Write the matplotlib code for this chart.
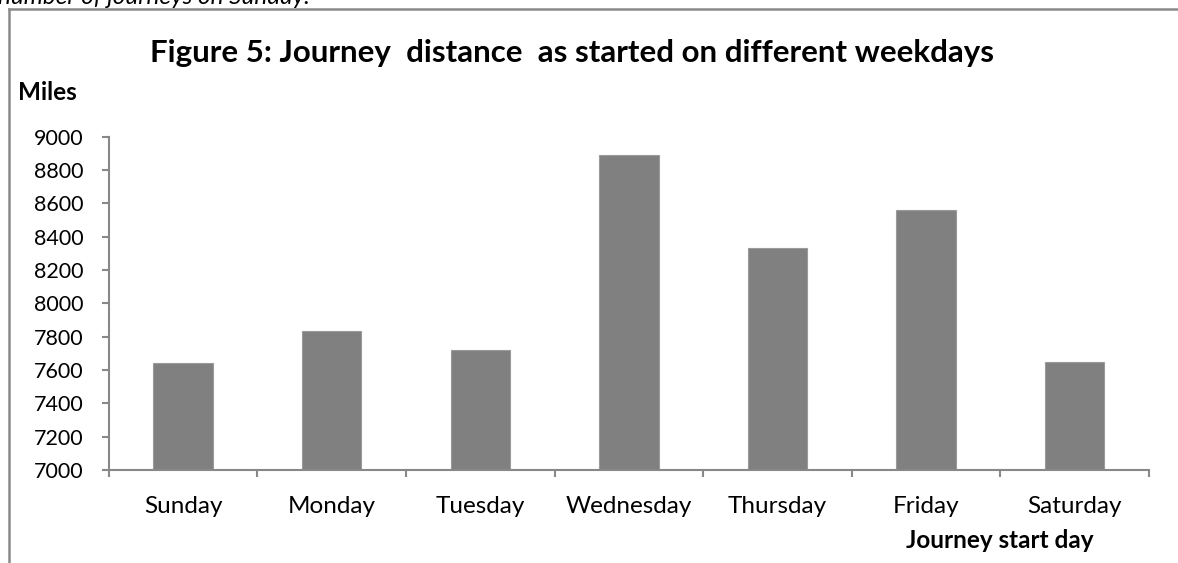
import matplotlib.pyplot as plt
from matplotlib.lines import Line2D

# Datos del gráfico
dias = ["Sunday", "Monday", "Tuesday", "Wednesday", "Thursday", "Friday", "Saturday"]
millas = [7640, 7832, 7720, 8892, 8333, 8560, 7648]
ticks_y = [7000, 7200, 7400, 7600, 7800, 8000, 8200, 8400, 8600, 8800, 9000]

plt.rcParams['font.family'] = ['Lato', 'DejaVu Sans']

W, H = 1178, 563
fig = plt.figure(figsize=(W / 100, H / 100), dpi=100)
ax = fig.add_axes([108.7 / W, 1 - 470 / H, (1149 - 108.7) / W, (470 - 136.7) / H])

# Barras
ax.bar(range(len(dias)), millas, width=0.4, color="#808080", edgecolor="#9a9a9a", linewidth=0.8)

ax.set_ylim(7000, 9000)
ax.set_xlim(-0.5, len(dias) - 0.5)
ax.set_yticks(ticks_y)
ax.set_yticklabels([str(t) for t in ticks_y], fontsize=15.5)
ax.set_xticks([i - 0.5 for i in range(len(dias) + 1)])
ax.set_xticklabels([])
ax.set_xticks(range(len(dias)), minor=True)
ax.set_xticklabels(dias, minor=True, fontsize=17.5)
ax.tick_params(axis='x', which='minor', length=0, pad=19)
ax.tick_params(axis='x', which='major', length=5, color="#888888", width=1.5, direction='out')
ax.tick_params(axis='y', length=5, color="#888888", width=1.5, pad=13)

for lado in ["top", "right"]:
    ax.spines[lado].set_visible(False)
for lado in ["left", "bottom"]:
    ax.spines[lado].set_color("#888888")
    ax.spines[lado].set_linewidth(1.5)

# Textos
fig.text(0.5 * (150 + 995) / W, 1 - 53 / H, "Figure 5: Journey  distance  as started on different weekdays",
         ha='center', va='center', fontsize=22.5, fontweight='bold')
fig.text(18 / W, 1 - 93 / H, "Miles", ha='left', va='center', fontsize=17.5, fontweight='bold')
fig.text(1000 / W, 1 - 540 / H, "Journey start day", ha='center', va='center', fontsize=17.5, fontweight='bold')
fig.text(-0.002, 1 - 4 / H, "number of journeys on Sunday.", ha='left', va='baseline',
         fontsize=17.5, style='italic')

# Marco del gráfico
fig.add_artist(Line2D([9 / W, 9 / W], [0, 1 - 9 / H], color="#8a8a8a", linewidth=1.8))
fig.add_artist(Line2D([9 / W, 1], [1 - 9 / H, 1 - 9 / H], color="#8a8a8a", linewidth=1.8))

fig.savefig("out.png", dpi=100)
